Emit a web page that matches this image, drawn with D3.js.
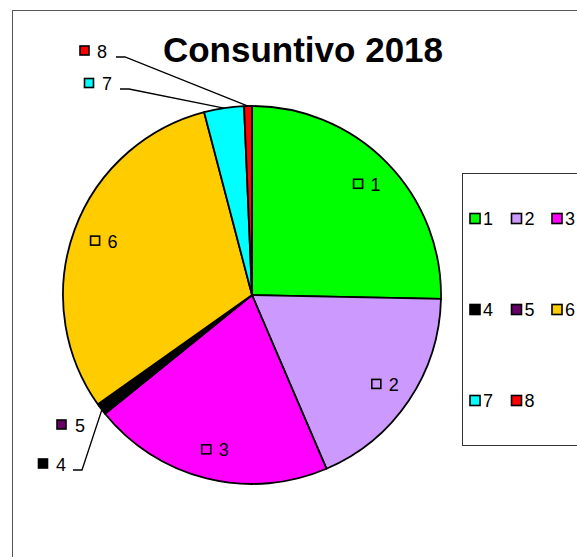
<!DOCTYPE html>
<html>
<head>
<meta charset="utf-8">
<script src="https://cdn.jsdelivr.net/npm/d3@7"></script>
<style>
html,body{margin:0;padding:0;background:#fff;}
svg{display:block;font-family:Arial,"Liberation Sans",sans-serif;}
</style>
</head>
<body>
<svg id="chart" width="577" height="557"></svg>
<script>
// ---- data ----
const title = "Consuntivo 2018";
const categories = ["1","2","3","4","5","6","7","8"];
const values = [25.3, 18.2, 20.6, 0.85, 0.15, 30.7, 3.4, 0.67];
const colors = ["#00FF00","#CC99FF","#FF00FF","#000000","#660066","#FFCC00","#00FFFF","#FF0000"];
const insideLabels = ["1","2","3","6"];

// ---- layout ----
const W = 577, H = 557;
const cx = 252, cy = 295, R = 189;
const svg = d3.select("#chart");

// outer frame
svg.append("rect").attr("x",12.5).attr("y",10.5).attr("width",W).attr("height",H)
  .attr("fill","none").attr("stroke","#555").attr("stroke-width",1);

// title
svg.append("text").attr("x",303).attr("y",62).attr("text-anchor","middle")
  .attr("font-size",35).attr("font-weight","bold").attr("fill","#000").text(title);

const pie = d3.pie().sort(null).value(d => d.v).startAngle(0).endAngle(2*Math.PI);
const data = categories.map((c,i) => ({c, v: values[i], col: colors[i]}));
const arcs = pie(data);
const arc = d3.arc().innerRadius(0).outerRadius(R);
const labelArc = d3.arc().innerRadius(159).outerRadius(159);

const g = svg.append("g").attr("transform",`translate(${cx},${cy})`);
g.selectAll("path.slice").data(arcs).join("path")
  .attr("class","slice")
  .attr("d",arc)
  .attr("fill",d => d.data.col)
  .attr("stroke","#000").attr("stroke-width",1.8).attr("stroke-linejoin","round");

const fs = 18;
// inside labels
arcs.filter(a => insideLabels.includes(a.data.c)).forEach(a => {
  const [x,y] = labelArc.centroid(a);
  const px = cx + x, py = cy + y;
  svg.append("rect").attr("x",px-12).attr("y",py-4.5).attr("width",9).attr("height",9)
    .attr("fill","none").attr("stroke","#000").attr("stroke-width",1.6);
  svg.append("text").attr("x",px+5).attr("y",py+7).attr("font-size",fs).attr("fill","#000").text(a.data.c);
});

// outside labels (positions of the callouts)
const outside = [
  {c:"8", sx:80, sy:46, tx:97, line:[116,125,57]},
  {c:"7", sx:84.5, sy:78.5, tx:102, line:[120,129,89]},
  {c:"5", sx:57, sy:420, tx:75, line:null},
  {c:"4", sx:38.5, sy:459, tx:56, line:[73,82,470]}
];
const edge = d3.arc().innerRadius(R).outerRadius(R);
outside.forEach(o => {
  const a = arcs.find(d => d.data.c === o.c);
  svg.append("rect").attr("x",o.sx).attr("y",o.sy).attr("width",9).attr("height",9)
    .attr("fill",a.data.col).attr("stroke","#000").attr("stroke-width",1.6);
  svg.append("text").attr("x",o.tx).attr("y",o.sy+11.5).attr("font-size",fs).attr("fill","#000").text(o.c);
  if (o.line) {
    const [ex,ey] = edge.centroid(a);
    const pts = [[o.line[0],o.line[2]],[o.line[1],o.line[2]],[cx+ex,cy+ey]];
    svg.append("path").attr("d",d3.line()(pts)).attr("fill","none")
      .attr("stroke","#000").attr("stroke-width",1.3);
  }
});

// legend
svg.append("rect").attr("x",462.5).attr("y",173.5).attr("width",200).attr("height",272)
  .attr("fill","#fff").attr("stroke","#333").attr("stroke-width",1);
const legCols = [469.5, 511, 551.5];
const legRows = [218.5, 309.5, 400.5];
categories.forEach((c,i) => {
  const col = i % 3, row = Math.floor(i / 3);
  const x = legCols[col], y = legRows[row];
  svg.append("rect").attr("x",x+0.5).attr("y",y-5).attr("width",10).attr("height",10)
    .attr("fill",colors[i]).attr("stroke","#000").attr("stroke-width",1.6);
  svg.append("text").attr("x",x+13.5).attr("y",y+6.5).attr("font-size",fs).attr("fill","#000").text(c);
});
</script>
</body>
</html>
